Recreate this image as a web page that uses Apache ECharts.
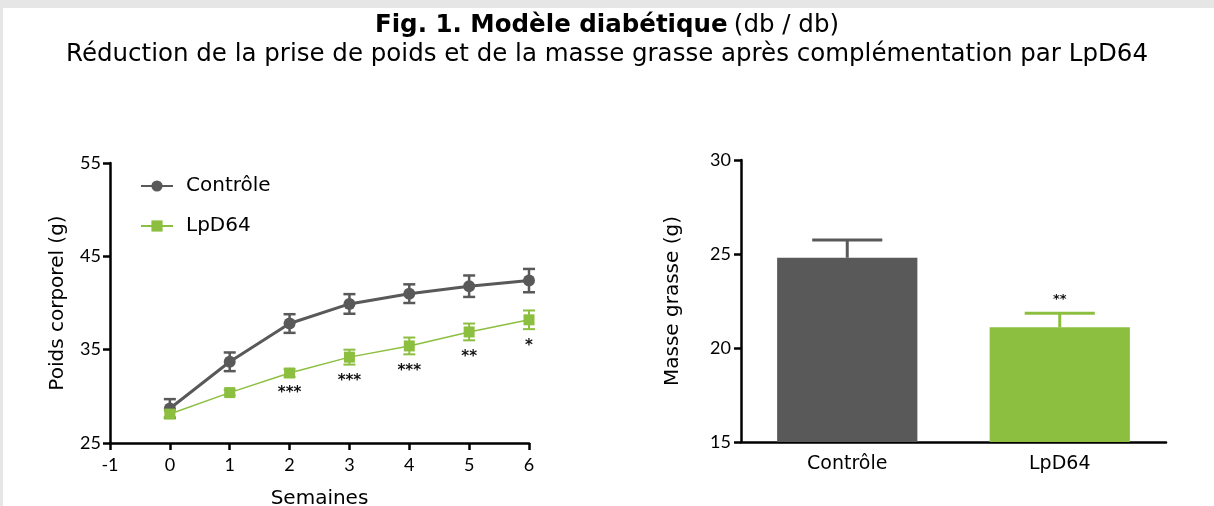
<!DOCTYPE html>
<html>
<head>
<meta charset="utf-8">
<script src="https://cdn.jsdelivr.net/npm/echarts@6/dist/echarts.min.js"></script>
<style>
    html, body { margin: 0; padding: 0; background: #e6e6e6; }
    #echart { width: 1214px; height: 506px; }
</style>
</head>
<body>
<div id="echart"></div>
<script>
// poids corporel par semaine
const weeks = [0, 1, 2, 3, 4, 5, 6];
const controleMean = [28.7, 33.7, 37.8, 39.9, 41.0, 41.8, 42.4];
const controleSem = [1.0, 1.0, 1.0, 1.05, 1.0, 1.15, 1.25];
const lpd64Mean = [28.1, 30.4, 32.5, 34.2, 35.4, 36.9, 38.2];
const lpd64Sem = [0.3, 0.3, 0.4, 0.8, 0.9, 0.9, 1.0];
const weekStars = ['', '', '***', '***', '***', '**', '*'];

// masse grasse
const groups = ['Contrôle', 'LpD64'];
const fatMean = [24.8, 21.1];
const fatSem = [0.95, 0.75];
const fatStars = ['', '**'];

const GREY = '#595959';
const GREEN = '#8cbf3f';
const TEXT_FONT = 'DejaVu Sans';
const NUM_FONT = 'Lato';

let Echart = echarts.init(document.getElementById('echart'));

// barres d'erreur autour des points
function lineErrorBar(color, width, stars) {
    return function (params, api) {
        let x = api.value(0);
        let lo = api.coord([x, api.value(1)]);
        let hi = api.coord([x, api.value(2)]);
        let cap = 6;
        let style = {stroke: color, lineWidth: width};
        let children = [
            {type: 'line', shape: {x1: lo[0], y1: lo[1], x2: hi[0], y2: hi[1]}, style: style},
            {type: 'line', shape: {x1: lo[0] - cap, y1: lo[1], x2: lo[0] + cap, y2: lo[1]}, style: style},
            {type: 'line', shape: {x1: hi[0] - cap, y1: hi[1], x2: hi[0] + cap, y2: hi[1]}, style: style}
        ];
        if (stars && stars[params.dataIndex]) {
            children.push({
                type: 'text',
                style: {
                    text: stars[params.dataIndex],
                    x: lo[0], y: lo[1] + 9,
                    align: 'center', verticalAlign: 'top',
                    fill: '#111', font: 'bold 15px ' + TEXT_FONT
                }
            });
        }
        return {type: 'group', children: children};
    };
}

// barre d'erreur haute seulement (histogramme)
function barErrorBar(params, api) {
    let idx = api.value(0);
    let base = api.coord([idx, api.value(1)]);
    let top = api.coord([idx, api.value(2)]);
    let cap = api.size([1, 0])[0] * 0.66 / 4;
    let color = params.dataIndex === 0 ? GREY : GREEN;
    let style = {stroke: color, lineWidth: 3};
    let children = [
        {type: 'line', shape: {x1: base[0], y1: base[1], x2: top[0], y2: top[1]}, style: style},
        {type: 'line', shape: {x1: top[0] - cap, y1: top[1], x2: top[0] + cap, y2: top[1]}, style: style}
    ];
    if (fatStars[params.dataIndex]) {
        children.push({
            type: 'text',
            style: {
                text: fatStars[params.dataIndex],
                x: top[0], y: top[1] - 14,
                align: 'center', verticalAlign: 'middle',
                fill: '#111', font: 'bold 13px ' + TEXT_FONT
            }
        });
    }
    return {type: 'group', children: children};
}

let axisLine = {onZero: false, lineStyle: {color: '#000', width: 2.5}};
let axisTick = {length: 7, lineStyle: {color: '#000', width: 2.5}};
let numLabel = {color: '#000', fontSize: 18, fontFamily: NUM_FONT};
let nameStyle = {color: '#000', fontSize: 20, fontFamily: TEXT_FONT};

let option = {
    backgroundColor: '#fff',
    textStyle: {fontFamily: TEXT_FONT},
    graphic: [
        {type: 'rect', shape: {x: 0, y: 0, width: 1214, height: 8}, style: {fill: '#e6e6e6'}},
        {type: 'rect', shape: {x: 0, y: 0, width: 3, height: 506}, style: {fill: '#e6e6e6'}}
    ],
    title: {
        left: 'center',
        top: 8,
        itemGap: 4,
        text: '{b|Fig. 1. Modèle diabétique} {n|(db / db)}',
        textStyle: {
            rich: {
                b: {fontSize: 24.5, fontWeight: 'bold', color: '#000', fontFamily: TEXT_FONT},
                n: {fontSize: 24.5, fontWeight: 'normal', color: '#000', fontFamily: TEXT_FONT}
            }
        },
        subtext: 'Réduction de la prise de poids et de la masse grasse après complémentation par LpD64',
        subtextStyle: {fontSize: 24.5, color: '#000', fontFamily: TEXT_FONT}
    },
    legend: {
        orient: 'vertical',
        left: 135,
        top: 171,
        itemGap: 20,
        itemWidth: 32,
        itemHeight: 14,
        selectedMode: false,
        data: ['Contrôle', 'LpD64'],
        textStyle: {fontSize: 20, color: '#000', fontFamily: TEXT_FONT, padding: [0, 0, 0, 8]}
    },
    grid: [
        {left: 110, top: 163, width: 419, height: 280, outerBoundsMode: 'none'},
        {left: 741, top: 160, width: 425, height: 282, outerBoundsMode: 'none'}
    ],
    xAxis: [{
        gridIndex: 0,
        type: 'value',
        min: -1,
        max: 6,
        interval: 1,
        name: 'Semaines',
        nameLocation: 'middle',
        nameGap: 46,
        nameTextStyle: nameStyle,
        splitLine: {show: false},
        axisLine: axisLine,
        axisTick: axisTick,
        axisLabel: Object.assign({margin: 13}, numLabel)
    }, {
        gridIndex: 1,
        type: 'category',
        data: groups,
        axisLine: axisLine,
        axisTick: Object.assign({alignWithLabel: true}, axisTick),
        axisLabel: {margin: 13, color: '#000', fontSize: 19, fontFamily: TEXT_FONT}
    }],
    yAxis: [{
        gridIndex: 0,
        type: 'value',
        min: 25,
        max: 55,
        interval: 10,
        name: 'Poids corporel (g)',
        nameLocation: 'middle',
        nameGap: 42,
        nameTextStyle: nameStyle,
        splitLine: {show: false},
        axisLine: Object.assign({show: true}, axisLine),
        axisTick: Object.assign({show: true}, axisTick),
        axisLabel: Object.assign({margin: 9}, numLabel)
    }, {
        gridIndex: 1,
        type: 'value',
        min: 15,
        max: 30,
        interval: 5,
        name: 'Masse grasse (g)',
        nameLocation: 'middle',
        nameGap: 58,
        nameTextStyle: nameStyle,
        splitLine: {show: false},
        axisLine: Object.assign({show: true}, axisLine),
        axisTick: Object.assign({show: true}, axisTick),
        axisLabel: Object.assign({margin: 10}, numLabel)
    }],
    series: [{
        type: 'custom',
        name: 'errControle',
        xAxisIndex: 0,
        yAxisIndex: 0,
        z: 1,
        renderItem: lineErrorBar(GREY, 2.5),
        data: weeks.map((w, i) => [w, controleMean[i] - controleSem[i], controleMean[i] + controleSem[i]])
    }, {
        type: 'line',
        name: 'Contrôle',
        xAxisIndex: 0,
        yAxisIndex: 0,
        z: 2,
        symbol: 'circle',
        symbolSize: 12,
        color: GREY,
        lineStyle: {width: 3, color: GREY},
        data: weeks.map((w, i) => [w, controleMean[i]])
    }, {
        type: 'custom',
        name: 'errLpD64',
        xAxisIndex: 0,
        yAxisIndex: 0,
        z: 3,
        renderItem: lineErrorBar(GREEN, 2, weekStars),
        data: weeks.map((w, i) => [w, lpd64Mean[i] - lpd64Sem[i], lpd64Mean[i] + lpd64Sem[i]])
    }, {
        type: 'line',
        name: 'LpD64',
        xAxisIndex: 0,
        yAxisIndex: 0,
        z: 4,
        symbol: 'rect',
        symbolSize: 11,
        color: GREEN,
        lineStyle: {width: 1.5, color: GREEN},
        data: weeks.map((w, i) => [w, lpd64Mean[i]])
    }, {
        type: 'bar',
        name: 'masse',
        xAxisIndex: 1,
        yAxisIndex: 1,
        barWidth: '66%',
        data: fatMean.map((v, i) => ({value: v, itemStyle: {color: i === 0 ? GREY : GREEN}}))
    }, {
        type: 'custom',
        name: 'errMasse',
        xAxisIndex: 1,
        yAxisIndex: 1,
        z: 3,
        renderItem: barErrorBar,
        data: fatMean.map((v, i) => [i, v, v + fatSem[i]])
    }]
};
Echart.setOption(option);
</script>
</body>
</html>
